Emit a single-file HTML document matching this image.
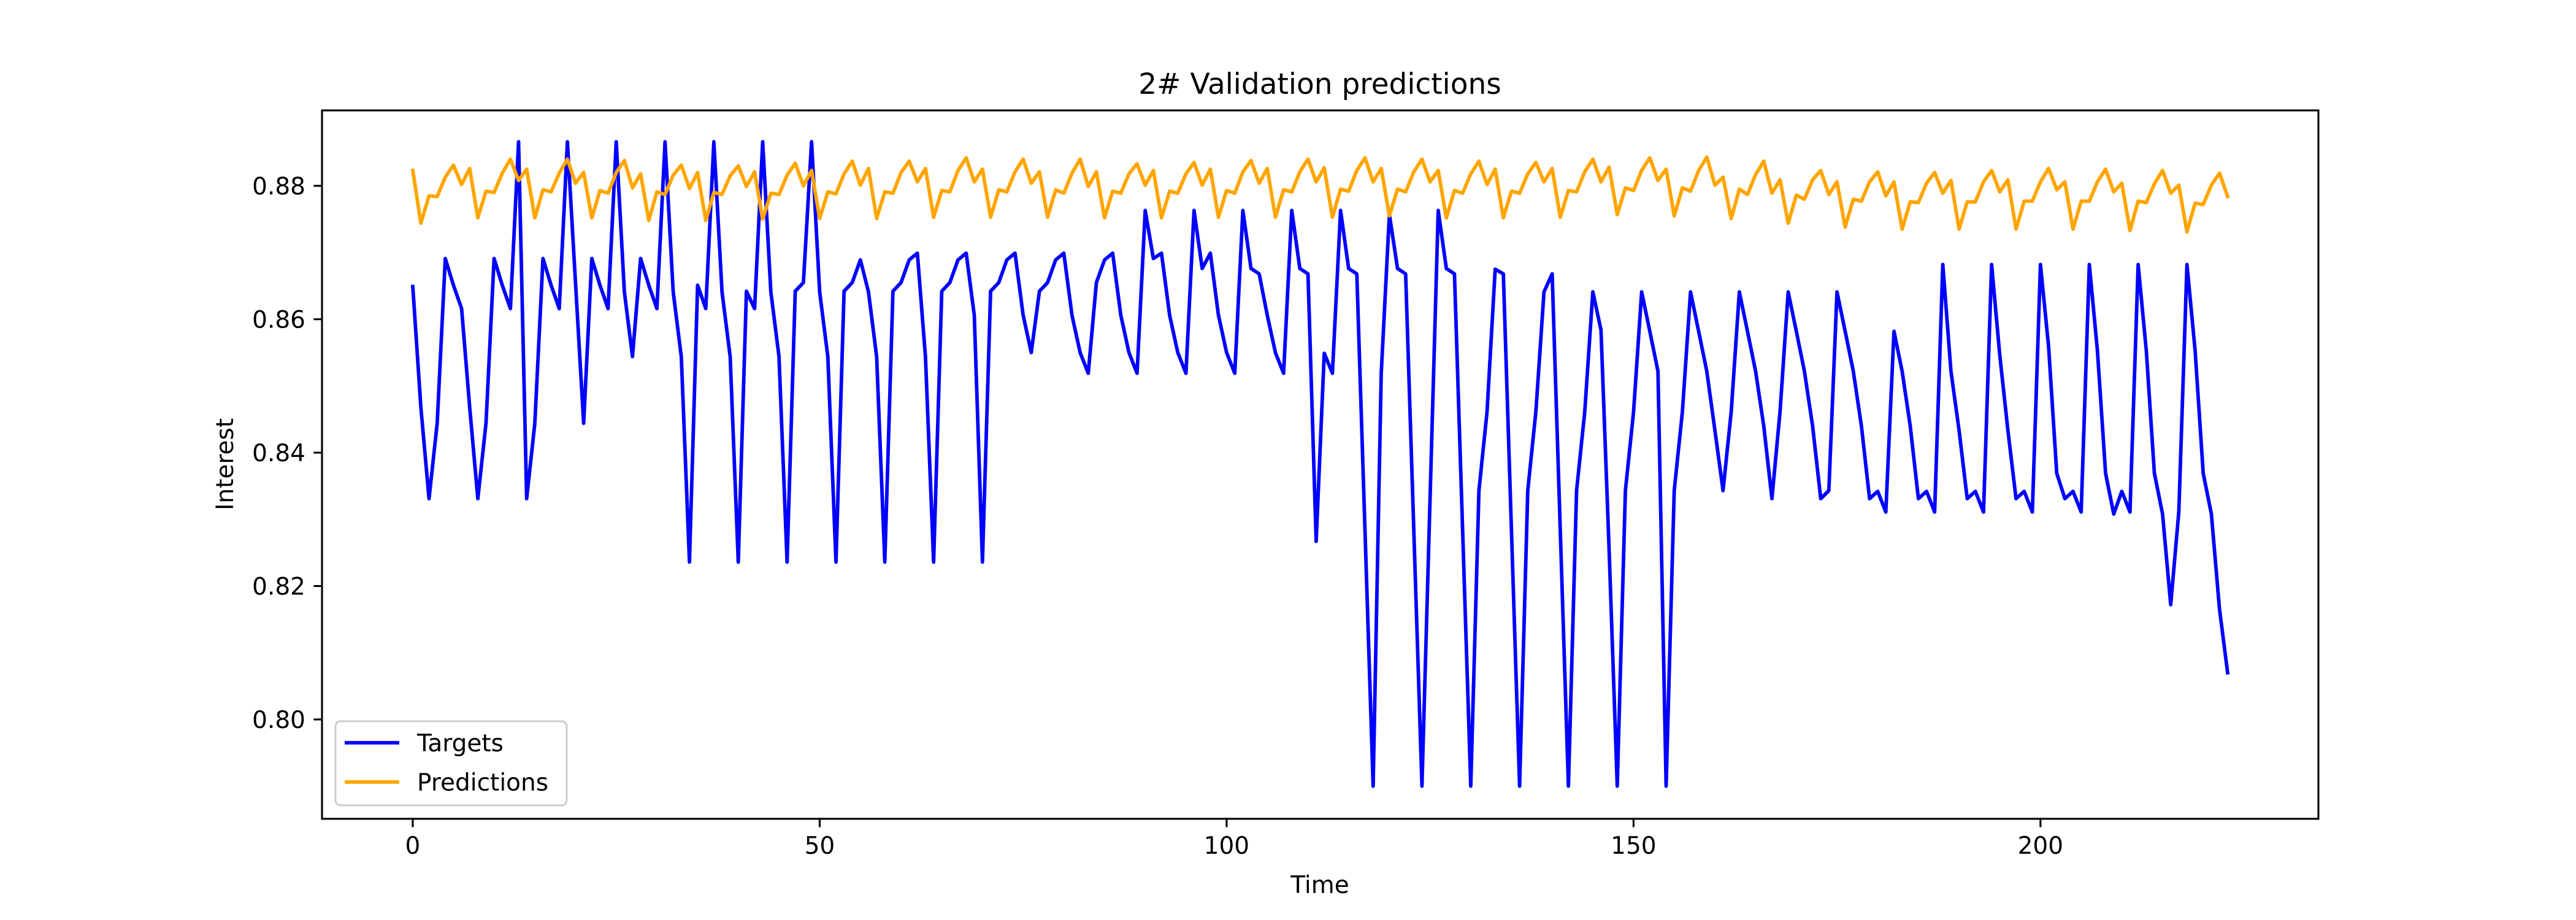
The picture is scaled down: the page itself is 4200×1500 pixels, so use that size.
<!DOCTYPE html>
<html><head><meta charset="utf-8"><style>
html,body{margin:0;padding:0;background:#fff;}
svg{display:block;font-family:"DejaVu Sans","Liberation Sans",sans-serif;}
</style></head><body>
<svg id="chart" width="4200" height="1500" viewBox="0 0 4200 1500">
<rect width="4200" height="1500" fill="#fff"/>
<text x="2152" y="153" font-size="47" text-anchor="middle">2# Validation predictions</text>
<text x="2152" y="1456" font-size="39" text-anchor="middle">Time</text>
<text x="0" y="0" font-size="39" text-anchor="middle" transform="translate(380,757) rotate(-90)">Interest</text>
<g id="plot"></g>
</svg>
<script>
const xTicks = [0, 50, 100, 150, 200];
const yTicks = [0.80, 0.82, 0.84, 0.86, 0.88];
const targets = [.8649,.8468,.8331,.8444,.8691,.8651,.8616,.8468,.8331,.8444,.8691,.8651,.8616,.8866,.8331,.8444,.8691,.8651,.8616,.8866,
.8655,.8444,.8691,.8651,.8616,.8866,.8641,.8544,.8691,.8651,.8616,.8866,.8641,.8544,.8236,.8651,.8616,.8866,.8641,.8544,
.8236,.8642,.8616,.8866,.8641,.8544,.8236,.8642,.8655,.8866,.8641,.8544,.8236,.8642,.8655,.8689,.8641,.8544,.8236,.8642,
.8655,.8689,.8699,.8544,.8236,.8642,.8655,.8689,.8699,.8606,.8236,.8642,.8655,.8689,.8699,.8606,.8550,.8642,.8655,.8689,
.8699,.8606,.8550,.8519,.8655,.8689,.8699,.8606,.8550,.8519,.8763,.8691,.8699,.8606,.8550,.8519,.8763,.8676,.8699,.8606,
.8550,.8519,.8763,.8676,.8668,.8606,.8550,.8519,.8763,.8676,.8668,.8267,.8549,.8519,.8763,.8676,.8668,.8284,.7900,.8519,
.8757,.8676,.8668,.8284,.7900,.8331,.8763,.8676,.8668,.8284,.7900,.8343,.8461,.8675,.8668,.8284,.7900,.8343,.8461,.8641,
.8668,.8284,.7900,.8343,.8461,.8641,.8584,.8253,.7900,.8343,.8461,.8641,.8582,.8522,.7900,.8343,.8461,.8641,.8582,.8522,
.8433,.8343,.8461,.8641,.8582,.8522,.8440,.8331,.8461,.8641,.8582,.8522,.8440,.8331,.8343,.8641,.8582,.8522,.8440,.8331,
.8342,.8311,.8582,.8522,.8440,.8331,.8342,.8311,.8682,.8522,.8433,.8331,.8342,.8311,.8682,.8546,.8433,.8331,.8342,.8311,
.8682,.8559,.8369,.8331,.8342,.8311,.8682,.8553,.8369,.8308,.8342,.8311,.8682,.8553,.8369,.8308,.8172,.8311,.8682,.8553,
.8369,.8308,.8165,.8070];
const predictions = [.8823,.8744,.8785,.8784,.8813,.8831,.8802,.8826,.8752,.8792,.8790,.8819,.8840,.8808,.8825,.8752,.8794,.8791,.8819,.8840,
.8804,.8820,.8752,.8793,.8789,.8820,.8838,.8797,.8818,.8748,.8791,.8787,.8816,.8831,.8796,.8820,.8748,.8790,.8787,.8815,
.8830,.8799,.8821,.8750,.8789,.8787,.8816,.8834,.8800,.8823,.8751,.8791,.8788,.8818,.8837,.8801,.8826,.8751,.8791,.8789,
.8820,.8837,.8806,.8826,.8753,.8793,.8791,.8823,.8842,.8806,.8825,.8753,.8794,.8791,.8821,.8840,.8804,.8821,.8753,.8794,
.8789,.8819,.8840,.8799,.8821,.8752,.8792,.8789,.8818,.8833,.8801,.8823,.8752,.8792,.8789,.8818,.8835,.8801,.8825,.8753,
.8793,.8789,.8821,.8838,.8804,.8826,.8753,.8794,.8791,.8821,.8840,.8806,.8827,.8753,.8795,.8792,.8823,.8842,.8806,.8826,
.8755,.8795,.8791,.8821,.8840,.8806,.8823,.8752,.8793,.8789,.8818,.8837,.8802,.8825,.8752,.8792,.8789,.8818,.8835,.8806,
.8826,.8753,.8793,.8791,.8821,.8840,.8806,.8828,.8757,.8797,.8793,.8823,.8842,.8808,.8825,.8755,.8797,.8792,.8823,.8843,
.8801,.8813,.8751,.8795,.8787,.8817,.8837,.8789,.8809,.8744,.8786,.8780,.8809,.8823,.8787,.8806,.8738,.8780,.8777,.8806,
.8821,.8785,.8806,.8735,.8776,.8775,.8804,.8820,.8789,.8808,.8735,.8776,.8776,.8806,.8823,.8791,.8809,.8735,.8777,.8777,
.8806,.8826,.8794,.8806,.8735,.8777,.8777,.8806,.8825,.8791,.8804,.8733,.8777,.8775,.8803,.8823,.8789,.8801,.8731,.8774,
.8772,.8801,.8819,.8784];

const NS = 'http://www.w3.org/2000/svg';
const L = 525, R = 3780, T = 180, B = 1335;
const xMin = -11.15, xMax = 234.15;
function xs(v){ return L + (v - xMin) / (xMax - xMin) * (R - L); }
function ys(v){ return 303 + (0.88 - v) * 10875; }
const g = document.getElementById('plot');
function mk(tag, attrs){ const e = document.createElementNS(NS, tag); for (const k in attrs) e.setAttribute(k, attrs[k]); g.appendChild(e); return e; }

function drawSeries(vals, color, name){
  const pts = vals.map((v,i)=> xs(i).toFixed(1)+','+ys(v).toFixed(1)).join(' ');
  const pl = mk('polyline', {points: pts, fill:'none', stroke: color, 'stroke-width': 5.8, 'stroke-linejoin':'round', 'stroke-linecap':'square'});
  
  
}
drawSeries(targets, '#0000ff', 'targets-line');
drawSeries(predictions, '#ffa500', 'predictions-line');

const frame = mk('rect', {x:L, y:T, width:R-L, height:B-T, fill:'none', stroke:'#000', 'stroke-width':3.1});



xTicks.forEach(t=>{
  const x = xs(t);
  const tk = mk('line', {x1:x, x2:x, y1:B, y2:B+13.6, stroke:'#000', 'stroke-width':3.1});
  
  
  const tx = mk('text', {x:x, y:1392, 'font-size':39, 'text-anchor':'middle'});
  tx.textContent = String(t);
  
  
});
yTicks.forEach(t=>{
  const y = ys(t);
  const tk = mk('line', {x1:L-13.6, x2:L, y1:y, y2:y, stroke:'#000', 'stroke-width':3.1});
  
  
  const tx = mk('text', {x:498, y:y+14, 'font-size':39, 'text-anchor':'end'});
  tx.textContent = t.toFixed(2);
  
  
});

const lg = mk('rect', {x:547, y:1176, width:377, height:137, rx:8, fill:'#fff', 'fill-opacity':0.8, stroke:'#cccccc', 'stroke-width':3});


[['Targets','#0000ff',1211],['Predictions','#ffa500',1275]].forEach(([lab,col,y])=>{
  const ln = mk('line', {x1:562, x2:651, y1:y, y2:y, stroke:col, 'stroke-width':5.8});
  
  
  const tx = mk('text', {x:680, y:y+14, 'font-size':39});
  tx.textContent = lab;
  
  
});
</script>
</body></html>
